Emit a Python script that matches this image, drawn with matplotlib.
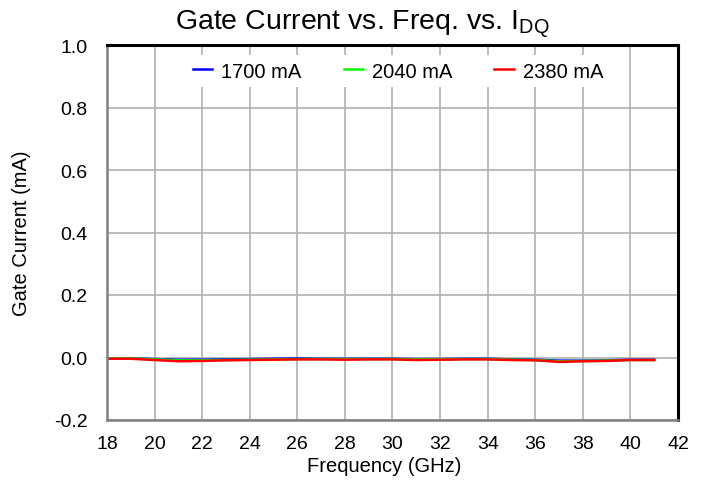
import matplotlib
matplotlib.use("Agg")
import matplotlib.pyplot as plt

plt.rcParams['font.family'] = ['Liberation Sans', 'DejaVu Sans']

freq = [18, 19, 20, 21, 22, 23, 24, 25, 26, 27, 28, 29, 30, 31, 32, 33, 34, 35, 36, 37, 38, 39, 40, 41]
i1700 = [-0.003, -0.003, -0.005, -0.007, -0.007, -0.006, -0.005, -0.004, -0.003, -0.004, -0.004, -0.004, -0.004, -0.005, -0.005, -0.004, -0.004, -0.006, -0.007, -0.010, -0.010, -0.009, -0.007, -0.007]
i2040 = [-0.003, -0.003, -0.006, -0.009, -0.009, -0.008, -0.007, -0.006, -0.005, -0.005, -0.005, -0.005, -0.005, -0.006, -0.006, -0.005, -0.005, -0.007, -0.008, -0.012, -0.011, -0.010, -0.008, -0.008]
i2380 = [-0.004, -0.004, -0.008, -0.012, -0.011, -0.009, -0.008, -0.007, -0.006, -0.006, -0.007, -0.006, -0.006, -0.008, -0.007, -0.006, -0.006, -0.008, -0.009, -0.014, -0.012, -0.011, -0.008, -0.008]
labels = ['1700 mA', '2040 mA', '2380 mA']
colors = ['#0000ff', '#00ff00', '#ff0000']

fig = plt.figure(figsize=(7.05, 4.85), dpi=100)
ax = fig.add_axes([107/705, 1 - 421/485, 571/705, 375/485])

for y, lab, c in zip([i1700, i2040, i2380], labels, colors):
    ax.plot(freq, y, color=c, lw=1.8, label=lab)

ax.set_xlim(18, 42)
ax.set_ylim(-0.2, 1.0)
ax.set_xticks(range(18, 43, 2))
ax.set_yticks([-0.2, 0.0, 0.2, 0.4, 0.6, 0.8, 1.0])
ax.set_yticklabels(['-0.2', '0.0', '0.2', '0.4', '0.6', '0.8', '1.0'])
ax.grid(True, color='#b0b0b0', lw=1.2)
ax.set_axisbelow(True)
ax.tick_params(axis='x', length=0, labelsize=14, pad=11)
ax.tick_params(axis='y', length=0, labelsize=14, pad=14)
for s in ['left', 'bottom']:
    ax.spines[s].set_color('#808080')
    ax.spines[s].set_linewidth(1.8)
for s in ['top', 'right']:
    ax.spines[s].set_color('black')
    ax.spines[s].set_linewidth(2.2)

fig.text(384/705, 1 - 467/485, 'Frequency (GHz)', fontsize=14.5, ha='center', va='center')
fig.text(22/705, 1 - 233/485, 'Gate Current (mA)', fontsize=14.5, ha='center', va='center', rotation=90)
fig.text(362/705, 1 - 25/485, r'Gate Current vs. Freq. vs. I$_{\mathregular{DQ}}$', fontsize=20.5,
         ha='center', va='center')

leg = ax.legend(loc='center', bbox_to_anchor=((398 - 107) / 571, (421 - 72) / 375), ncol=3, frameon=True,
                fontsize=14.5, handlelength=0.95, columnspacing=2.1, handletextpad=0.45,
                borderpad=0.3, fancybox=False)
leg.get_frame().set_edgecolor('none')
leg.get_frame().set_facecolor('white')
leg.get_frame().set_alpha(1)

fig.savefig('out.png', dpi=100)
